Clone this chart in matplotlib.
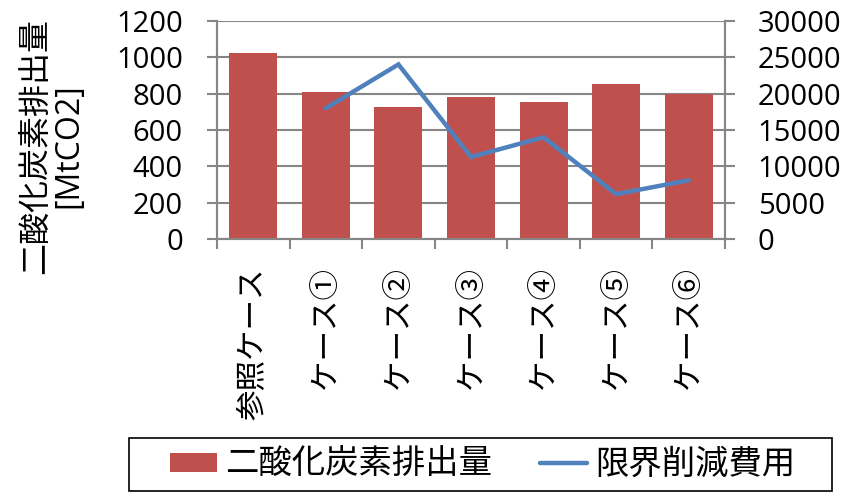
import numpy as np
import matplotlib
matplotlib.use("Agg")
import matplotlib.pyplot as plt
from matplotlib.patches import Rectangle

plt.rcParams['font.family'] = ['Open Sans', 'Noto Sans CJK JP', 'DejaVu Sans']

cases = ['参照ケース', 'ケース①', 'ケース②', 'ケース③', 'ケース④', 'ケース⑤', 'ケース⑥']
emissions = [1025, 810, 726, 782, 753, 852, 796]
marginal_cost = [np.nan, 18000, 24000, 11300, 14000, 6200, 8100]

bar_color = '#C0504D'
line_color = '#4F81BD'
grid_color = '#868686'
jp = ['Noto Sans CJK JP', 'DejaVu Sans']

W, H = 843, 492
fig = plt.figure(figsize=(W / 100, H / 100), dpi=100)
ax = fig.add_axes([217 / W, 1 - 239.3 / H, (725 - 217) / W, 218.6 / H])
ax2 = ax.twinx()

x = np.arange(len(cases))
bars = ax.bar(x, emissions, width=0.66, color=bar_color, zorder=3)
line, = ax2.plot(x, marginal_cost, color=line_color, linewidth=3.2,
                 solid_capstyle='round', solid_joinstyle='miter', zorder=4)

ax.set_xlim(-0.5, len(cases) - 0.5)
ax.set_ylim(0, 1200)
ax.set_yticks(np.arange(0, 1201, 200))
ax2.set_ylim(0, 30000)
ax2.set_yticks(np.arange(0, 30001, 5000))

ax.yaxis.grid(True, color=grid_color, linewidth=1.5, zorder=0)
ax.set_axisbelow(True)

for a in (ax, ax2):
    for s in a.spines.values():
        s.set_color(grid_color)
        s.set_linewidth(1.5)
    a.spines['top'].set_visible(False)

ax.tick_params(axis='y', length=7.5, width=1.5, color=grid_color, pad=17, labelsize=21)
ax2.tick_params(axis='y', length=7.5, width=1.5, color=grid_color, pad=16, labelsize=21)

# category labels at centres, tick marks at the boundaries
ax.set_xticks(x)
ax.set_xticklabels(cases, rotation=90, fontsize=22, family=jp, va='top', ha='center')
ax.tick_params(axis='x', which='major', length=0, pad=20)
ax.set_xticks(np.arange(-0.5, len(cases), 1), minor=True)
ax.tick_params(axis='x', which='minor', length=7.5, width=1.5, color=grid_color)

fig.text(52 / W, 1 - 146 / H, '二酸化炭素排出量\n[MtCO2]', rotation=90,
         ha='center', va='center', multialignment='center', fontsize=23,
         linespacing=1.0)

# legend entries, with a separate square box around them
leg = fig.legend([bars, line], ['二酸化炭素排出量', '限界削減費用'],
                 loc='center', ncol=2, bbox_to_anchor=(482.5 / W, 1 - 464.5 / H),
                 prop={'family': jp, 'size': 24}, frameon=False,
                 handlelength=1.41, handleheight=0.5, handletextpad=0.24,
                 columnspacing=1.44, borderpad=0, borderaxespad=0)
fig.patches.append(Rectangle((129 / W, 1 - 491 / H), (832 - 129) / W, 53 / H,
                             transform=fig.transFigure, fill=False,
                             edgecolor='black', linewidth=1.2))

fig.savefig('out.png', dpi=100)
